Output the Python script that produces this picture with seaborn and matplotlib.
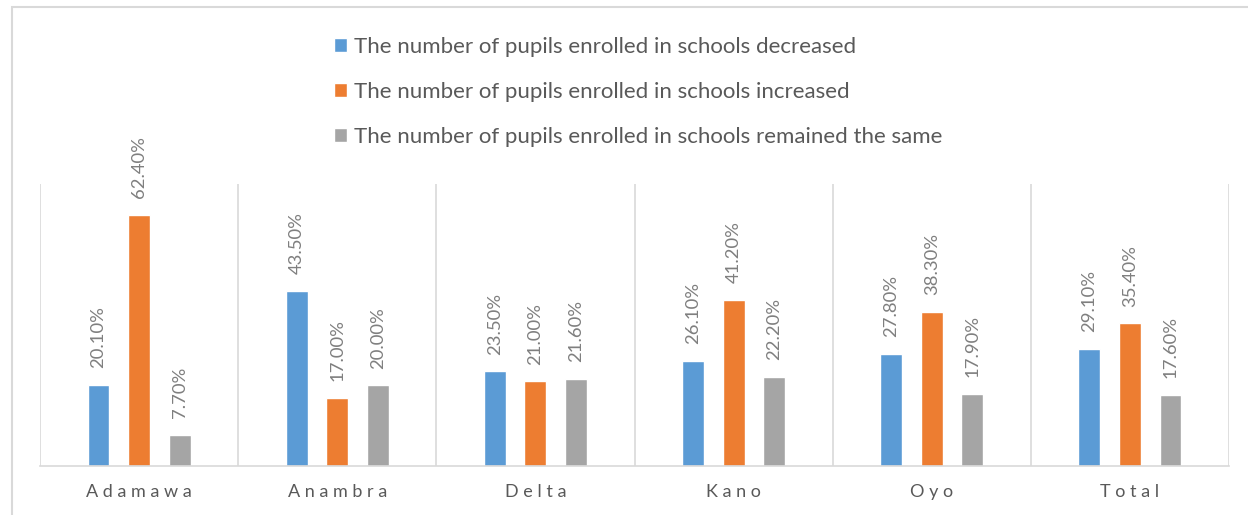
import matplotlib
matplotlib.use("Agg")
import matplotlib.pyplot as plt
from matplotlib.patches import Rectangle
import pandas as pd
import seaborn as sns

# Enrolment change by state (percent of respondents)
states = ["Adamawa", "Anambra", "Delta", "Kano", "Oyo", "Total"]
series_names = [
    "The number of pupils enrolled in schools decreased",
    "The number of pupils enrolled in schools increased",
    "The number of pupils enrolled in schools remained the same",
]
decreased = [20.1, 43.5, 23.5, 26.1, 27.8, 29.1]
increased = [62.4, 17.0, 21.0, 41.2, 38.3, 35.4]
same = [7.7, 20.0, 21.6, 22.2, 17.9, 17.6]
colors = ["#5B9BD5", "#ED7D31", "#A5A5A5"]

rows = []
for name, vals in zip(series_names, [decreased, increased, same]):
    for st, v in zip(states, vals):
        rows.append({"State": st, "Series": name, "Value": v})
df = pd.DataFrame(rows)

sns.set_theme(style="white")
plt.rcParams["font.family"] = ["Lato", "DejaVu Sans"]

W, H = 1248, 515
fig = plt.figure(figsize=(W / 100, H / 100), dpi=100)
ax = fig.add_axes([40 / W, (H - 466) / H, (1229 - 40) / W, (466 - 184) / H])

sns.barplot(data=df, x="State", y="Value", hue="Series", order=states,
            hue_order=series_names, palette=colors, width=0.614, gap=0.46,
            saturation=1, ax=ax, legend=True)

for cont in ax.containers:
    ax.bar_label(cont, labels=[f"{b.get_height():.2f}%" for b in cont],
                 rotation=90, padding=12, fontsize=13.3, color="#7f7f7f")

ax.set_ylim(0, 70)
ax.set_xlim(-0.5, len(states) - 0.5)
ax.set_yticks([])
ax.set_xlabel("")
ax.set_ylabel("")
ax.set_xticks(range(len(states)))
ax.set_xticklabels([" ".join(s) for s in states], fontsize=13, color="#595959")
ax.tick_params(axis="x", length=0, pad=13)
for sp in ["top", "left", "right"]:
    ax.spines[sp].set_visible(False)
ax.spines["bottom"].set_color("#d9d9d9")
ax.spines["bottom"].set_linewidth(1.2)
for i in range(len(states) + 1):
    ax.axvline(i - 0.5, color="#d9d9d9", lw=1.2, zorder=0)

sns.move_legend(ax, "upper left", bbox_to_anchor=(323 / W, (H - 26) / H),
                bbox_transform=fig.transFigure, frameon=False, title=None,
                fontsize=16, handlelength=0.6, handleheight=0.6,
                handletextpad=0.3, labelspacing=1.12, borderpad=0)
for t in ax.get_legend().get_texts():
    t.set_color("#595959")

# Outer frame of the chart area
fig.patches.append(Rectangle((12 / W, -0.1), 1.2, (H - 7) / H + 0.1,
                             transform=fig.transFigure, fill=False,
                             edgecolor="#d9d9d9", lw=1.5))

fig.savefig("out.png", dpi=100)
